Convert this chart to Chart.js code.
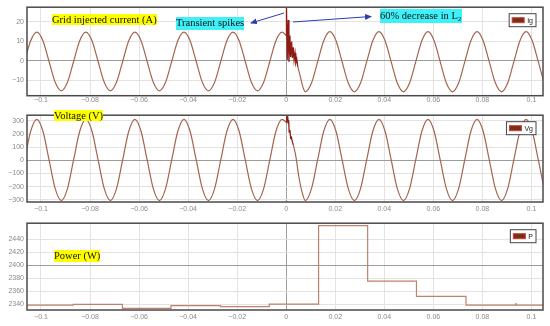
<!DOCTYPE html>
<html>
<head>
<meta charset="utf-8">
<script src="https://cdn.jsdelivr.net/npm/chart.js@4.4.1/dist/chart.umd.min.js"></script>
<style>
	body { margin: 0; background: #fff; }
	#wrap { position: relative; width: 550px; height: 326px; overflow: hidden; }
	canvas { position: absolute; left: 0; }
	.tag { position: absolute; font-family: "Liberation Serif", "Times New Roman", serif; font-size: 10.5px; color: #111; white-space: nowrap; }
	.yel { background: #ffff00; }
	.cyan { background: #3ef0f8; }
	.tag sub { font-size: 7px; vertical-align: -2px; line-height: 0; }
</style>
</head>
<body>
<div id="wrap">
	<canvas id="cI" width="550" height="108" style="top:0"></canvas>
	<canvas id="cV" width="550" height="108" style="top:108px"></canvas>
	<canvas id="cP" width="550" height="110" style="top:216px"></canvas>
	<div class="tag yel" style="left:52px;top:14px;line-height:11px">Grid injected current (A)</div>
	<div class="tag cyan" style="left:176px;top:17px;line-height:12.5px">Transient spikes</div>
	<div class="tag cyan" style="left:380px;top:9px;line-height:14px;padding-right:1px">60% decrease in L<sub>2</sub></div>
	<div class="tag yel" style="left:54px;top:110px;line-height:11px">Voltage (V)</div>
	<div class="tag yel" style="left:54px;top:250px;line-height:12px">Power (W)</div>
	<svg width="550" height="326" style="position:absolute;left:0;top:0;pointer-events:none">
		<defs>
			<marker id="ah" markerWidth="7" markerHeight="6" refX="6" refY="3" orient="auto">
				<path d="M0,0 L7,3 L0,6 z" fill="#2b3fae"/>
			</marker>
		</defs>
		<line x1="284" y1="13" x2="251" y2="23" stroke="#2b3fae" stroke-width="1" marker-end="url(#ah)"/>
		<line x1="293" y1="22" x2="371" y2="16.5" stroke="#2b3fae" stroke-width="1" marker-end="url(#ah)"/>
	</svg>
</div>
<script>
// time axis ticks (s)
const xTicks = [-0.1, -0.08, -0.06, -0.04, -0.02, 0, 0.02, 0.04, 0.06, 0.08, 0.1];
const igTicks = [-10, 0, 10, 20];
const vgTicks = [-300, -200, -100, 0, 100, 200, 300];
const pTicks = [2340, 2360, 2380, 2400, 2420, 2440];

// before the change (t < 0)
const tPre = [-0.1067, -0.1042, -0.1017, -0.0992, -0.0967, -0.0942, -0.0917, -0.0892,
	-0.0867, -0.0842, -0.0817, -0.0792, -0.0767, -0.0742, -0.0717, -0.0692,
	-0.0667, -0.0642, -0.0617, -0.0592, -0.0567, -0.0542, -0.0517, -0.0492,
	-0.0467, -0.0442, -0.0417, -0.0392, -0.0367, -0.0342, -0.0317, -0.0292,
	-0.0267, -0.0242, -0.0217, -0.0192, -0.0167, -0.0142, -0.0117, -0.0092,
	-0.0067, -0.0042, -0.0017, 0.0];
const igPre = [-0.3, 10.4, 14.8, 10.4, -0.3, -11.0, -15.4, -11.0,
	-0.3, 10.4, 14.8, 10.4, -0.3, -11.0, -15.4, -11.0,
	-0.3, 10.4, 14.8, 10.4, -0.3, -11.0, -15.4, -11.0,
	-0.3, 10.4, 14.8, 10.4, -0.3, -11.0, -15.4, -11.0,
	-0.3, 10.4, 14.8, 10.4, -0.3, -11.0, -15.4, -11.0,
	-0.3, 10.4, 14.8, 13.0];
const vgPre = [3, 221, 312, 221, 3, -215, -306, -215,
	3, 221, 312, 221, 3, -215, -306, -215,
	3, 221, 312, 221, 3, -215, -306, -215,
	3, 221, 312, 221, 3, -215, -306, -215,
	3, 221, 312, 221, 3, -215, -306, -215,
	3, 221, 312, 290];

// transient spikes right after t = 0
const tSpkI = [0.0, 0.0001, 0.0004, 0.0008, 0.0011, 0.0015, 0.0018, 0.0022, 0.0025, 0.0029, 0.0032, 0.0036, 0.0039, 0.0043, 0.0047];
const igSpk = [13, 28, 0.5, 21, -0.5, 13, 2, 10, 1.5, 7, 0.5, 4, -1, 1, -3];
const tSpkV = [0.0, 0.0002, 0.0004, 0.0006, 0.0008, 0.0010, 0.0012, 0.0015, 0.0018, 0.0021, 0.0025, 0.0029];
const vgSpk = [290, 345, 300, 335, 285, 305, 215, 230, 170, 175, 140, 118];

// after the change
const tPostI = [0.0047, 0.0057, 0.0067,
	0.0078, 0.0103, 0.0128, 0.0153, 0.0178, 0.0203, 0.0228, 0.0253,
	0.0278, 0.0303, 0.0328, 0.0353, 0.0378, 0.0403, 0.0428, 0.0453,
	0.0478, 0.0503, 0.0528, 0.0553, 0.0578, 0.0603, 0.0628, 0.0653,
	0.0678, 0.0703, 0.0728, 0.0753, 0.0778, 0.0803, 0.0828, 0.0853,
	0.0878, 0.0903, 0.0928, 0.0953, 0.0978, 0.1003, 0.1028, 0.1053, 0.1078];
const igPost = [-3, -7.8, -13,
	-15.9, -11.4, -0.5, 10.4, 15.0, 10.4, -0.5, -11.4,
	-15.9, -11.4, -0.5, 10.4, 15.0, 10.4, -0.5, -11.4,
	-15.9, -11.4, -0.5, 10.4, 15.0, 10.4, -0.5, -11.4,
	-15.9, -11.4, -0.5, 10.4, 15.0, 10.4, -0.5, -11.4,
	-15.9, -11.4, -0.5, 10.4, 15.0, 10.4, -0.5, -11.4, -15.9];
const tPostV = [0.0029, 0.0039, 0.0052, 0.0066,
	0.0078, 0.0103, 0.0128, 0.0153, 0.0178, 0.0203, 0.0228, 0.0253,
	0.0278, 0.0303, 0.0328, 0.0353, 0.0378, 0.0403, 0.0428, 0.0453,
	0.0478, 0.0503, 0.0528, 0.0553, 0.0578, 0.0603, 0.0628, 0.0653,
	0.0678, 0.0703, 0.0728, 0.0753, 0.0778, 0.0803, 0.0828, 0.0853,
	0.0878, 0.0903, 0.0928, 0.0953, 0.0978, 0.1003, 0.1028, 0.1053, 0.1078];
const vgPost = [118, 32, -130, -251,
	-306, -215, 3, 221, 312, 221, 3, -215,
	-306, -215, 3, 221, 312, 221, 3, -215,
	-306, -215, 3, 221, 312, 221, 3, -215,
	-306, -215, 3, 221, 312, 221, 3, -215,
	-306, -215, 3, 221, 312, 221, 3, -215, -306];

// power, one value per grid cycle (held until the next time)
const tP = [-0.107, -0.0868, -0.0668, -0.0470, -0.0268, -0.0069, 0.0132, 0.0332, 0.0531, 0.0733, 0.0936, 0.0939, 0.106];
const pw = [2339, 2340, 2334, 2338, 2336.5, 2340.5, 2461.5, 2376, 2352.5, 2339, 2341, 2339, 2339];

(function() {
	Chart.defaults.font.family = '"Liberation Sans", Arial, sans-serif';
	Chart.defaults.font.size = 7;
	Chart.defaults.color = '#8a8a8a';

	const lineCol = '#a3654f';
	const spikeCol = '#8e1b12';
	const pts = (xs, ys) => xs.map((x, i) => ({x: x, y: ys[i]}));
	const fmt = v => v === 0 ? '0' : String(v).replace('-', '\u2212');

	const framePlugin = {
		id: 'frame',
		afterDraw(chart, args, opts) {
			const a = chart.chartArea;
			const ctx = chart.ctx;
			ctx.save();
			ctx.strokeStyle = '#4a4a4a';
			ctx.lineWidth = 1.5;
			ctx.strokeRect(a.left, a.top, a.right - a.left, a.bottom - a.top);
			// legend box in the top right corner
			ctx.font = '7px "Liberation Sans", Arial, sans-serif';
			const tw = ctx.measureText(opts.label).width;
			const w = 3 + 12 + 3 + tw + 3;
			const h = 13;
			const x = a.right - 7 - w;
			const y = a.top + 6.5;
			ctx.fillStyle = '#fff';
			ctx.fillRect(x, y, w, h);
			ctx.lineWidth = 1;
			ctx.strokeStyle = '#444';
			ctx.strokeRect(x, y, w, h);
			ctx.fillStyle = '#7b2e12';
			ctx.fillRect(x + 3, y + 4, 12, 5);
			ctx.strokeStyle = '#c8403a';
			ctx.strokeRect(x + 3, y + 4, 12, 5);
			ctx.fillStyle = '#222';
			ctx.textBaseline = 'middle';
			ctx.fillText(opts.label, x + 18, y + h / 2 + 0.5);
			ctx.restore();
		}
	};

	function makeChart(id, datasets, o) {
		return new Chart(document.getElementById(id), {
			type: 'line',
			data: {datasets: datasets},
			plugins: [framePlugin],
			options: {
				responsive: false,
				animation: false,
				layout: {padding: {top: o.top, right: 7, left: 0, bottom: 0}},
				plugins: {
					legend: {display: false},
					tooltip: {enabled: false},
					frame: {label: o.label}
				},
				elements: {point: {radius: 0}},
				scales: {
					x: {
						type: 'linear',
						min: -0.1057,
						max: 0.1047,
						afterBuildTicks: s => { s.ticks = xTicks.map(v => ({value: v})); },
						afterFit: s => { s.height = o.xh; },
						ticks: {padding: o.xpad, maxRotation: 0, autoSkip: false, callback: fmt},
						grid: {
							drawTicks: false,
							color: c => c.tick && c.tick.value === 0 ? '#9c9c9c' : '#e3e3e3'
						},
						border: {display: false}
					},
					y: {
						min: o.min,
						max: o.max,
						afterBuildTicks: s => { s.ticks = o.ticks.map(v => ({value: v})); },
						afterFit: s => { s.width = 27; },
						ticks: {padding: 3, callback: fmt},
						grid: {
							drawTicks: false,
							color: c => c.tick && c.tick.value === o.axisAt ? '#9c9c9c' : '#e3e3e3'
						},
						border: {display: false}
					}
				}
			}
		});
	}

	const smooth = {borderColor: lineCol, borderWidth: 1.2, cubicInterpolationMode: 'monotone', fill: false};
	const spiky = {borderColor: spikeCol, borderWidth: 1.3, tension: 0, fill: false, order: -1};

	makeChart('cI', [
		Object.assign({label: 'Ig', data: pts(tPre, igPre)}, smooth),
		Object.assign({label: 'Ig', data: pts(tSpkI, igSpk)}, spiky),
		Object.assign({label: 'Ig', data: pts(tPostI, igPost)}, smooth)
	], {label: 'Ig', ticks: igTicks, min: -17.9, max: 27.6, axisAt: 0, top: 5.7, xh: 12.3, xpad: 0.5});

	makeChart('cV', [
		Object.assign({label: 'Vg', data: pts(tPre, vgPre)}, smooth),
		Object.assign({label: 'Vg', data: pts(tSpkV, vgSpk)}, spiky),
		Object.assign({label: 'Vg', data: pts(tPostV, vgPost)}, smooth)
	], {label: 'Vg', ticks: vgTicks, min: -316, max: 343, axisAt: 0, top: 5.3, xh: 14, xpad: 3});

	makeChart('cP', [
		{label: 'P', data: pts(tP, pw), stepped: 'before', borderColor: '#c0806a', borderWidth: 1.2, fill: false}
	], {label: 'P', ticks: pTicks, min: 2331.4, max: 2465.2, axisAt: 2400, top: 5.7, xh: 16, xpad: 2.5});
})();
</script>
</body>
</html>
